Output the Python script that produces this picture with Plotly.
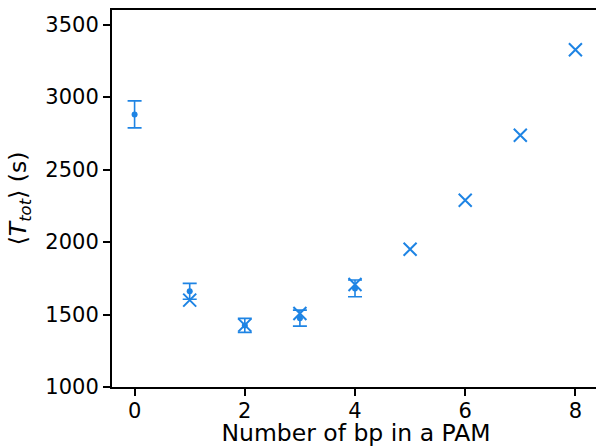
import plotly.graph_objects as go

# Experimental (mean ± error) data
exp_x = [0, 1, 2, 3, 4]
exp_mean = [2880, 1660, 1425, 1475, 1680]
exp_err = [93, 55, 48, 55, 58]

# Model values
model_x = [1, 2, 3, 4, 5, 6, 7, 8]
model_y = [1599, 1427, 1507, 1707, 1950, 2288, 2736, 3326]

color = "#1e84e4"

fig = go.Figure()
fig.add_trace(go.Scatter(
    x=exp_x, y=exp_mean, mode="markers",
    marker=dict(color=color, size=6),
    error_y=dict(type="data", array=exp_err, visible=True,
                 color=color, thickness=1.6, width=7),
    showlegend=False,
))
fig.add_trace(go.Scatter(
    x=model_x, y=model_y, mode="markers",
    marker=dict(symbol="x-thin", size=13, color=color,
                line=dict(color=color, width=2)),
    showlegend=False,
))

tick_font = dict(family="DejaVu Sans", size=21, color="black")
title_font = dict(family="DejaVu Sans", size=23.5, color="black")
fig.update_layout(
    width=600, height=447,
    margin=dict(l=112, r=0, t=10, b=60),
    plot_bgcolor="white", paper_bgcolor="white",
    font=tick_font,
    xaxis=dict(
        range=[-0.41, 8.446], tickmode="array", tickvals=[0, 2, 4, 6, 8],
        showgrid=False, zeroline=False, automargin=False,
        showline=True, linecolor="black", linewidth=2, mirror=True,
        ticks="outside", ticklen=7, tickwidth=1.6, tickcolor="black",
        tickfont=tick_font, ticklabelstandoff=-3,
        title=dict(text="Number of bp in a PAM", standoff=8, font=title_font),
    ),
    yaxis=dict(
        range=[1000, 3600], tickmode="array",
        tickvals=[1000, 1500, 2000, 2500, 3000, 3500],
        showgrid=False, zeroline=False, automargin=False,
        showline=True, linecolor="black", linewidth=2,
        ticks="outside", ticklen=7, tickwidth=1.6, tickcolor="black",
        tickfont=tick_font,
        title=dict(text="⟨<i>T</i><sub><i>tot</i></sub>⟩ (s)", standoff=12, font=title_font),
    ),
)

fig.write_html("out.html",
               config={"displayModeBar": False},
               post_script="document.body.style.margin='0';document.body.style.overflow='hidden';")
